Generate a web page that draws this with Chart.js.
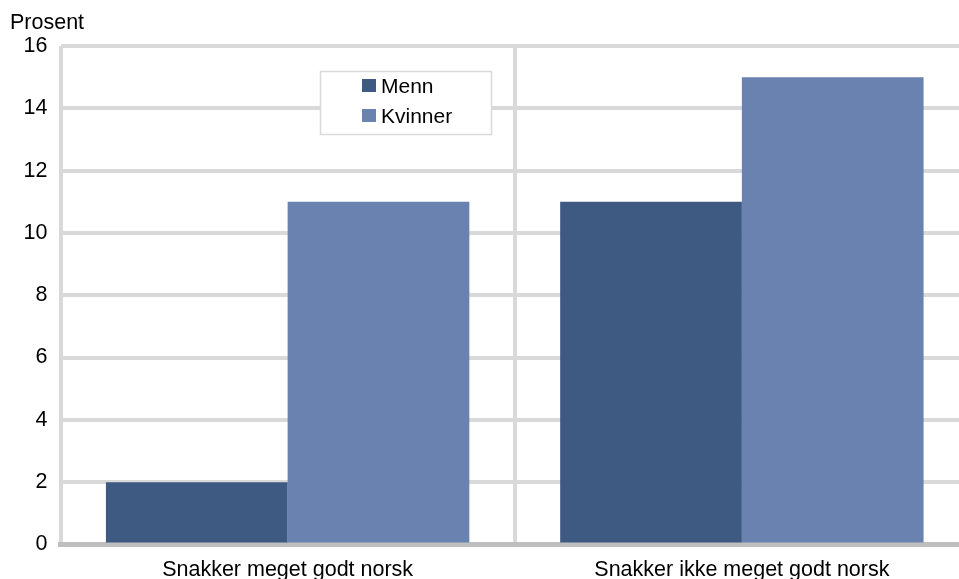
<!DOCTYPE html>
<html>
<head>
<meta charset="utf-8">
<script src="https://cdn.jsdelivr.net/npm/chart.js@4"></script>
<style>
  html, body { margin: 0; padding: 0; background: #fff; overflow: hidden; }
  #wrap { position: relative; width: 969px; height: 579px; }
</style>
</head>
<body>
<div id="wrap"><canvas id="chart"></canvas></div>
<script>
// Data
const categories = ["Snakker meget godt norsk", "Snakker ikke meget godt norsk"];
const menn = [2, 11];
const kvinner = [11, 15];
const yTicks = [0, 2, 4, 6, 8, 10, 12, 14, 16];

const FONT = "'Liberation Sans', Arial, sans-serif";

// Prosent label + boxed legend, drawn by hand like the original
const extras = {
    id: 'extras',
    afterDraw(chart) {
        const c = chart.ctx;
        c.save();
        c.fillStyle = '#000';
        c.font = '21.5px ' + FONT;
        c.textBaseline = 'alphabetic';
        c.textAlign = 'left';
        c.fillText('Prosent', 10, 29);

        // legend box
        c.fillStyle = '#fff';
        c.fillRect(320, 71, 172, 64);
        c.strokeStyle = '#D9D9D9';
        c.lineWidth = 1.5;
        c.strokeRect(320.5, 71.5, 171, 63);
        c.font = '21px ' + FONT;
        chart.data.datasets.forEach((ds, i) => {
            const y = 86 + i * 30;
            c.fillStyle = ds.backgroundColor;
            c.fillRect(362, y - 7, 14, 13);
            c.fillStyle = '#000';
            c.textBaseline = 'middle';
            c.fillText(ds.label, 381, y + 1);
        });
        c.restore();
    }
};

new Chart(document.getElementById('chart'), {
    type: 'bar',
    data: {
        labels: categories,
        datasets: [
            { label: 'Menn', data: menn, backgroundColor: '#3F5A82' },
            { label: 'Kvinner', data: kvinner, backgroundColor: '#6A82B0' }
        ]
    },
    options: {
        responsive: true,
        maintainAspectRatio: false,
        devicePixelRatio: 1,
        animation: false,
        layout: { padding: { top: 46, left: 0, right: 0, bottom: 0 } },
        datasets: { bar: { categoryPercentage: 0.8, barPercentage: 1.0 } },
        plugins: { legend: { display: false }, tooltip: { enabled: false } },
        scales: {
            x: {
                z: 1,
                grid: { color: '#D9D9D9', lineWidth: 4, drawTicks: false, offset: true },
                border: { color: '#BFBFBF', width: 5 },
                ticks: { color: '#000', font: { family: FONT, size: 21.5 }, padding: 13, maxRotation: 0 },
                afterFit(scale) { scale.height = 34.5; }
            },
            y: {
                min: 0,
                max: 16,
                afterBuildTicks(scale) { scale.ticks = yTicks.map(v => ({ value: v })); },
                grid: { color: '#D9D9D9', lineWidth: 4, drawTicks: false },
                border: { display: false },
                ticks: { color: '#000', font: { family: FONT, size: 21.5 }, padding: 13 },
                afterFit(scale) { scale.width = 60.5; }
            }
        }
    },
    plugins: [extras]
});
</script>
</body>
</html>
